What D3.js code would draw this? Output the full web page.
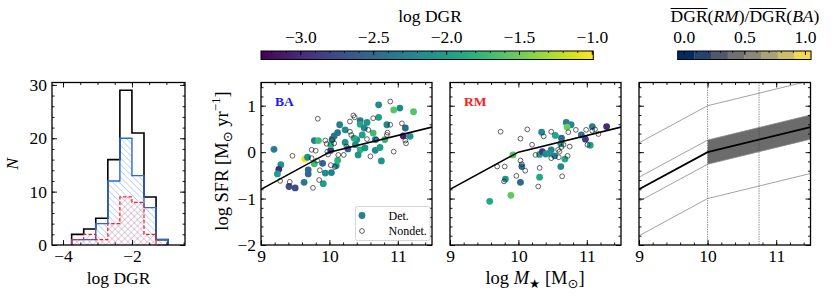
<!DOCTYPE html>
<html lang="en">
<head>
<meta charset="UTF-8">
<title>DGR and SFR panels</title>
<script src="https://d3js.org/d3.v7.min.js"></script>
<style>
  body { margin: 0; background: #fff; }
  svg text { font-family: "Liberation Serif", "DejaVu Serif", serif; fill: #000; }
</style>
</head>
<body>
<svg width="831" height="301"></svg>
<script>
// ---- data ----
const histEdges = [-3.75, -3.4, -3.05, -2.7, -2.35, -2.0, -1.65, -1.3, -0.95];
const histAll = [2, 3, 5, 16, 29, 21, 9, 1];
const histBA  = [1, 1, 4, 12, 20, 13, 7, 1];
const histRM  = [1, 2, 1, 4, 9, 8, 2, 0];

// BA detections: stellar mass, SFR, log DGR
const baDetM   = [9.19, 9.29, 9.26, 9.24, 9.41, 9.50, 9.64, 9.68, 9.63, 9.69, 9.69, 9.78, 9.78, 9.84, 9.90, 9.94, 9.91, 10.02, 10.02, 10.04, 10.07, 10.12, 10.15, 10.23, 10.23, 10.10, 10.12, 10.03, 10.72, 11.03, 10.94, 11.23, 10.72, 10.45, 10.55, 10.45, 10.51, 10.84, 11.11, 10.64, 11.08, 11.18, 10.40, 10.67, 10.81, 10.27, 10.38, 10.45, 10.52, 10.67, 10.74, 10.42, 10.76, 10.36, 10.48];
const baDetSFR = [0.06, -0.27, -0.37, -0.47, -0.74, -0.77, -0.15, -0.11, -0.65, -0.38, -0.47, -0.25, 0.25, 0.25, -0.24, -0.45, -0.68, 0.04, 0.16, 0.28, 0.35, 0.42, 0.59, 0.48, 0.21, -0.29, -0.18, -0.44, 1.02, 0.95, 0.91, 0.87, 0.75, 0.68, 0.64, 0.60, 0.52, 0.59, 0.52, 0.41, 0.35, 0.34, 0.27, 0.27, 0.27, 0.07, 0.16, 0.05, 0.09, 0.04, 0.10, -0.06, -0.19, 0.30, 0.37];
const baDetDGR = [-2.3, -2.1, -3.0, -2.0, -2.75, -2.75, -1.05, -2.1, -2.35, -2.5, -2.5, -1.7, -2.3, -1.7, -2.55, -2.15, -2.0, -2.9, -1.8, -2.3, -2.4, -2.4, -2.3, -2.15, -2.1, -2.2, -1.8, -2.3, -2.2, -2.2, -1.6, -1.6, -2.0, -2.4, -2.1, -1.9, -2.2, -2.2, -2.5, -1.7, -3.1, -2.1, -2.15, -2.3, -1.8, -2.6, -2.2, -1.8, -2.1, -2.2, -2.0, -2.1, -2.1, -1.85, -2.0];
// BA non-detections
const baNonM   = [9.28, 9.46, 9.42, 9.83, 9.74, 9.80, 9.82, 9.74, 9.86, 9.76, 9.85, 9.94, 9.96, 10.04, 10.07, 9.97, 10.13, 10.21, 10.08, 10.35, 10.37, 10.30, 10.30, 10.32, 10.57, 10.64, 10.89, 10.89, 11.06, 10.85, 10.84, 11.11, 11.12, 10.55, 10.69, 10.60, 10.94, 10.25, 9.98, 10.02];
const baNonSFR = [-0.62, -0.08, -0.64, 0.72, 0.05, 0.03, -0.18, -0.13, -0.39, -0.77, -0.60, 0.25, 0.18, 0.26, 0.19, 0.01, -0.06, -0.06, -0.32, 0.79, 0.75, 0.66, 0.44, 0.37, 0.48, 0.73, 1.09, 0.59, 0.62, 0.42, 0.37, 0.25, 0.19, 0.28, 0.27, -0.09, 0.01, 0.12, -0.05, -0.28];

// RM detections
const rmDetM   = [9.58, 9.89, 9.81, 9.92, 10.03, 10.05, 10.31, 10.34, 10.31, 10.35, 10.40, 10.48, 10.53, 10.54, 10.62, 10.63, 10.70, 10.77, 10.71, 10.68, 10.62, 10.92, 10.98, 11.05, 11.08, 11.29, 10.45];
const rmDetSFR = [-1.06, -0.93, -0.58, -0.06, -0.65, -0.31, -0.54, 0.43, -0.05, 0.01, -0.04, 0.05, -0.08, 0.36, -0.31, 0.30, 0.64, 0.59, 0.54, -0.15, 0.18, 0.37, 0.28, 0.15, 0.55, 0.55, -0.02];
const rmDetDGR = [-1.9, -1.55, -2.1, -1.6, -2.5, -2.4, -1.9, -2.2, -1.95, -2.9, -2.2, -2.25, -2.3, -1.9, -2.2, -2.5, -2.3, -2.2, -1.5, -1.9, -2.0, -2.4, -2.9, -2.0, -2.3, -3.0, -2.1];
// RM non-detections
const rmNonM   = [9.74, 10.13, 10.03, 10.20, 9.80, 9.69, 9.97, 10.03, 10.05, 10.10, 9.79, 10.31, 10.29, 10.25, 10.37, 10.48, 10.48, 10.58, 10.60, 10.63, 10.66, 10.73, 10.75, 10.72, 10.64, 10.84, 10.99, 11.01, 11.08, 11.12, 11.17, 10.59];
const rmNonSFR = [0.44, 0.49, 0.29, 0.16, -0.31, -0.31, -0.51, -0.18, -0.26, -0.40, -0.63, -0.34, -0.74, -0.06, 0.34, 0.44, -0.13, 0.05, 0.01, 0.11, 0.16, 0.43, 0.12, -0.08, -0.52, 0.48, 0.48, 0.16, 0.46, 0.49, 0.39, -0.11];

// main-sequence relation (mass, SFR) and its scatter
const msMass = [9, 10, 11.5];
const msSFR  = [-0.8, 0, 0.54];
const msBand = 0.26;      // shaded width (x >= 10)
const msOuter = 1.0;      // outer thin lines
const vLines = [10, 10.75];

const dgrTicks = [-3.0, -2.5, -2.0, -1.5, -1.0];
const dgrRange = [-3.27, -0.99];
const ratioTicks = [0.0, 0.5, 1.0];
const ratioBins = 8;

// ---- layout ----
const svg = d3.select("svg");
const defs = svg.append("defs");
const yTop = 82.5, yBot = 245;
const panels = { hist: [52, 185], ba: [261, 432], rm: [450, 621], ms: [639, 810.5] };
const fontSize = 17.5;

const color = d3.scaleSequential(d3.interpolateViridis).domain(dgrRange);

function frame(g, x, y, xMajor, xMinor, yMajor, yMinor, xFmt, yFmt) {
  const [x0, x1] = x.range(), [y0, y1] = y.range();
  const addAxis = (axis, tr, vals, size, fmt) => {
    const a = g.append("g").attr("transform", tr)
      .call(axis.tickValues(vals).tickSize(size).tickPadding(5).tickFormat(fmt || ""));
    a.select(".domain").remove();
    a.selectAll("line").attr("stroke", "#000").attr("stroke-width", 0.9);
    a.selectAll("text").style("font-size", fontSize + "px").style("font-family", "Liberation Serif, serif");
    return a;
  };
  addAxis(d3.axisBottom(x), `translate(0,${y0})`, xMajor, -5, xFmt);
  addAxis(d3.axisBottom(x), `translate(0,${y0})`, xMinor, -2.5);
  addAxis(d3.axisTop(x), `translate(0,${y1})`, xMajor, -5);
  addAxis(d3.axisTop(x), `translate(0,${y1})`, xMinor, -2.5);
  addAxis(d3.axisLeft(y), `translate(${x0},0)`, yMajor, -5, yFmt);
  addAxis(d3.axisLeft(y), `translate(${x0},0)`, yMinor, -2.5);
  addAxis(d3.axisRight(y), `translate(${x1},0)`, yMajor, -5);
  addAxis(d3.axisRight(y), `translate(${x1},0)`, yMinor, -2.5);
  g.append("rect").attr("x", x0).attr("y", y1).attr("width", x1 - x0).attr("height", y0 - y1)
    .attr("fill", "none").attr("stroke", "#000").attr("stroke-width", 1.3);
}

const rangeStep = (a, b, s) => d3.range(Math.round((b - a) / s) + 1).map(i => +(a + i * s).toFixed(3));

// ---- histogram ----
{
  const x = d3.scaleLinear().domain([-4.32, -0.46]).range(panels.hist);
  const y = d3.scaleLinear().domain([0, 30.45]).range([yBot, yTop]);
  const g = svg.append("g");
  const hatch = (id, col, ang) => {
    const p = defs.append("pattern").attr("id", id).attr("patternUnits", "userSpaceOnUse")
      .attr("width", 4.5).attr("height", 4.5).attr("patternTransform", `rotate(${ang})`);
    p.append("line").attr("x1", 0).attr("y1", 0).attr("x2", 0).attr("y2", 4.5)
      .attr("stroke", col).attr("stroke-width", 0.9);
  };
  hatch("hBA", "rgba(50,110,225,0.6)", -45);
  hatch("hRM", "rgba(255,50,50,0.6)", 45);

  const stepPts = counts => {
    const pts = [[histEdges[0], 0]];
    counts.forEach((c, i) => { pts.push([histEdges[i], c], [histEdges[i + 1], c]); });
    pts.push([histEdges[histEdges.length - 1], 0]);
    return pts;
  };
  const line = d3.line().x(d => x(d[0])).y(d => y(d[1]));

  g.append("path").attr("d", line(stepPts(histBA))).attr("fill", "url(#hBA)").attr("stroke", "none");
  g.append("path").attr("d", line(stepPts(histRM))).attr("fill", "url(#hRM)").attr("stroke", "none");
  g.append("path").attr("d", line(stepPts(histAll))).attr("fill", "none").attr("stroke", "#000").attr("stroke-width", 1.6);
  g.append("path").attr("d", line(stepPts(histBA))).attr("fill", "none").attr("stroke", "#2a66dd").attr("stroke-width", 1.4);
  g.append("path").attr("d", line(stepPts(histRM))).attr("fill", "none").attr("stroke", "#ff1a1a")
    .attr("stroke-width", 1.2).attr("stroke-dasharray", "3.5,2");

  frame(g, x, y, [-4, -2], rangeStep(-4, -0.5, 0.5), [0, 10, 20, 30], rangeStep(0, 30, 2),
        d3.format(".0f"), d3.format(".0f"));

  g.append("text").attr("x", d3.mean(panels.hist)).attr("y", 284).attr("text-anchor", "middle")
    .style("font-size", fontSize + "px").text("log DGR");
  g.append("text").attr("transform", "translate(18,164) rotate(-90)").attr("text-anchor", "middle")
    .style("font-size", fontSize + "px").style("font-style", "italic").text("N");
}

// ---- scatter panels ----
const xM = r => d3.scaleLinear().domain([9, 11.5]).range(r);
const yS = d3.scaleLinear().domain([-2, 1.5]).range([yBot, yTop]);
const msLine = x => d3.line().x((d, i) => x(msMass[i])).y(d => yS(d));

function scatterPanel(range, detM, detS, detC, nonM, nonS, tag, tagColor, showY) {
  const x = xM(range);
  const g = svg.append("g");
  const clipId = "clip" + tag;
  defs.append("clipPath").attr("id", clipId).append("rect")
    .attr("x", range[0]).attr("y", yTop).attr("width", range[1] - range[0]).attr("height", yBot - yTop);
  const plot = g.append("g").attr("clip-path", `url(#${clipId})`);

  plot.selectAll(".det").data(detM).join("circle")
    .attr("cx", d => x(d)).attr("cy", (d, i) => yS(detS[i])).attr("r", 3.4)
    .attr("fill", (d, i) => color(detC[i]));
  plot.selectAll(".non").data(nonM).join("circle")
    .attr("cx", d => x(d)).attr("cy", (d, i) => yS(nonS[i])).attr("r", 2.4)
    .attr("fill", "none").attr("stroke", "#222").attr("stroke-width", 0.7);
  plot.append("path").attr("d", msLine(x)(msSFR)).attr("fill", "none").attr("stroke", "#000").attr("stroke-width", 1.6);

  frame(g, x, yS, [9, 10, 11], rangeStep(9, 11.4, 0.2), [-2, -1, 0, 1], rangeStep(-2, 1.4, 0.2),
        d3.format(".0f"), showY ? d3.format(".0f") : "");

  g.append("text").attr("x", range[0] + 14).attr("y", 106).style("font-size", "13.5px")
    .style("font-weight", "bold").style("fill", tagColor).text(tag);
  return g;
}

const gBA = scatterPanel(panels.ba, baDetM, baDetSFR, baDetDGR, baNonM, baNonSFR, "BA", "#1a1aff", true);
const gRM = scatterPanel(panels.rm, rmDetM, rmDetSFR, rmDetDGR, rmNonM, rmNonSFR, "RM", "#ff1a1a", false);

// legend in BA panel
{
  const lg = gBA.append("g");
  lg.append("rect").attr("x", 355.5).attr("y", 206.5).attr("width", 74.5).attr("height", 34).attr("rx", 2)
    .attr("fill", "#fff").attr("stroke", "#ccc").attr("stroke-width", 0.8);
  lg.append("circle").attr("cx", 362).attr("cy", 215.5).attr("r", 3.4).attr("fill", color(-2.25));
  lg.append("circle").attr("cx", 362).attr("cy", 231).attr("r", 2.4).attr("fill", "none").attr("stroke", "#222").attr("stroke-width", 0.7);
  lg.append("text").attr("x", 388.5).attr("y", 219.5).style("font-size", "12px").text("Det.");
  lg.append("text").attr("x", 388.5).attr("y", 235).style("font-size", "12px").text("Nondet.");
}

// y label
{
  const t = svg.append("text").attr("transform", "translate(228,161) rotate(-90)").attr("text-anchor", "middle")
    .style("font-size", "18.5px");
  t.append("tspan").text("log SFR [M");
  t.append("tspan").attr("dy", 4).style("font-size", "13px").style("font-family", "DejaVu Sans").text("⊙");
  t.append("tspan").attr("dy", -4).text("  yr");
  t.append("tspan").attr("dy", -8).style("font-size", "13px").text("−1");
  t.append("tspan").attr("dy", 8).text("]");
}
// x label
{
  const t = svg.append("text").attr("x", 535).attr("y", 284).attr("text-anchor", "middle").style("font-size", "18.5px");
  t.append("tspan").text("log ");
  t.append("tspan").style("font-style", "italic").text("M");
  t.append("tspan").attr("dy", 4).style("font-size", "12.5px").style("font-family", "DejaVu Sans").text("★");
  t.append("tspan").attr("dy", -4).text("  [M");
  t.append("tspan").attr("dy", 4).style("font-size", "13px").style("font-family", "DejaVu Sans").text("⊙");
  t.append("tspan").attr("dy", -4).text("]");
}

// ---- relation panel ----
{
  const x = xM(panels.ms);
  const g = svg.append("g");
  defs.append("clipPath").attr("id", "clipMS").append("rect")
    .attr("x", panels.ms[0]).attr("y", yTop).attr("width", panels.ms[1] - panels.ms[0]).attr("height", yBot - yTop);
  const plot = g.append("g").attr("clip-path", "url(#clipMS)");
  const lineOff = off => msLine(x)(msSFR.map(v => v + off));

  const bandIdx = [1, 2];
  const area = d3.area().x(i => x(msMass[i])).y0(i => yS(msSFR[i] - msBand)).y1(i => yS(msSFR[i] + msBand));
  plot.append("path").attr("d", area(bandIdx)).attr("fill", "#6b6b6b");

  [msOuter, msBand, -msBand, -msOuter].forEach(off => {
    plot.append("path").attr("d", lineOff(off)).attr("fill", "none").attr("stroke", "#8a8a8a").attr("stroke-width", 0.8);
  });
  vLines.forEach(v => {
    plot.append("line").attr("x1", x(v)).attr("x2", x(v)).attr("y1", yTop).attr("y2", yBot)
      .attr("stroke", "#444").attr("stroke-width", 0.7).attr("stroke-dasharray", "1.2,1.2");
  });
  plot.append("path").attr("d", lineOff(0)).attr("fill", "none").attr("stroke", "#000").attr("stroke-width", 1.8);

  frame(g, x, yS, [9, 10, 11], rangeStep(9, 11.4, 0.2), [-2, -1, 0, 1], rangeStep(-2, 1.4, 0.2),
        d3.format(".0f"), "");
}

// ---- colorbars ----
function colorbarTicks(g, x, major, minor, y0) {
  const a = g.append("g").attr("transform", `translate(0,${y0})`)
    .call(d3.axisTop(x).tickValues(major).tickSize(-4).tickPadding(8).tickFormat(d3.format(".1f")));
  a.select(".domain").remove();
  a.selectAll("line").attr("stroke", "#000").attr("stroke-width", 0.9);
  a.selectAll("text").style("font-size", fontSize + "px").style("font-family", "Liberation Serif, serif");
  const b = g.append("g").attr("transform", `translate(0,${y0})`)
    .call(d3.axisTop(x).tickValues(minor).tickSize(-2).tickFormat(""));
  b.select(".domain").remove();
  b.selectAll("line").attr("stroke", "#000").attr("stroke-width", 0.8);
}
{
  const cbY = 51, cbH = 8.5;
  const x = d3.scaleLinear().domain(dgrRange).range([261, 593.3]);
  const g = svg.append("g");
  const grad = defs.append("linearGradient").attr("id", "vir");
  d3.range(0, 1.0001, 0.05).forEach(t => grad.append("stop").attr("offset", t).attr("stop-color", d3.interpolateViridis(t)));
  g.append("rect").attr("x", 261).attr("y", cbY).attr("width", 332.3).attr("height", cbH).attr("fill", "url(#vir)");
  colorbarTicks(g, x, dgrTicks, rangeStep(-3.2, -1.0, 0.1), cbY);
  g.append("rect").attr("x", 261).attr("y", cbY).attr("width", 332.3).attr("height", cbH)
    .attr("fill", "none").attr("stroke", "#000").attr("stroke-width", 1);
  g.append("text").attr("x", 430).attr("y", 22).attr("text-anchor", "middle").style("font-size", fontSize + "px").text("log DGR");
}
{
  const cbY = 51, cbH = 8.5, cx0 = 677.7, cx1 = 811;
  const x = d3.scaleLinear().domain([-0.05, 1.05]).range([cx0, cx1]);
  const g = svg.append("g");
  const w = (cx1 - cx0) / ratioBins;
  g.selectAll(".bin").data(d3.range(ratioBins)).join("rect")
    .attr("x", i => cx0 + i * w).attr("y", cbY).attr("width", w + 0.3).attr("height", cbH)
    .attr("fill", i => d3.interpolateCividis((i + 0.5) / ratioBins));
  colorbarTicks(g, x, ratioTicks, rangeStep(0, 1.0, 0.1), cbY);
  g.append("rect").attr("x", cx0).attr("y", cbY).attr("width", cx1 - cx0).attr("height", cbH)
    .attr("fill", "none").attr("stroke", "#000").attr("stroke-width", 1);

  const t = g.append("text").attr("x", 745).attr("y", 22).attr("text-anchor", "middle").style("font-size", fontSize + "px");
  t.append("tspan").text("DGR");
  t.append("tspan").text("(");
  t.append("tspan").style("font-style", "italic").text("RM");
  t.append("tspan").text(")/");
  t.append("tspan").text("DGR");
  t.append("tspan").text("(");
  t.append("tspan").style("font-style", "italic").text("BA");
  t.append("tspan").text(")");
  const node = t.node();
  const full = node.textContent;
  [0, full.indexOf("DGR", 3)].forEach(s => {
    const a = node.getStartPositionOfChar(s).x, b = node.getEndPositionOfChar(s + 2).x;
    g.append("line").attr("x1", a).attr("x2", b).attr("y1", 8.5).attr("y2", 8.5).attr("stroke", "#000").attr("stroke-width", 1);
  });
}
</script>
</body>
</html>
